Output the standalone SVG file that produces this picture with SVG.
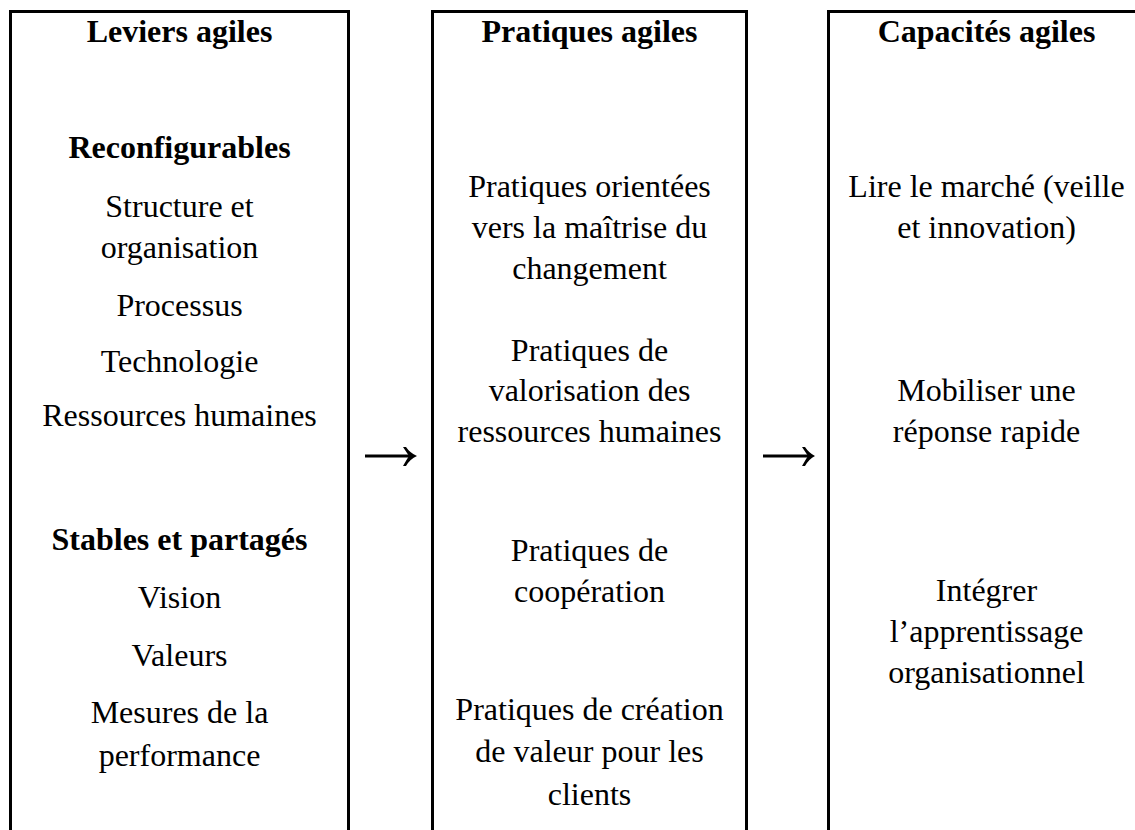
<svg xmlns="http://www.w3.org/2000/svg" width="1135" height="830" viewBox="0 0 1135 830">
<style>
.box{fill:#fff;stroke:#000;stroke-width:3}
text{font-family:"Liberation Serif","Times New Roman",serif;font-size:32px;fill:#000;text-anchor:middle}
.b{font-weight:bold}
.conn line{stroke:#000;stroke-width:3}
.conn path{fill:#000;stroke:none}
</style>
<rect width="1135" height="830" fill="#fff"/>
<g id="leviers">
<rect class="box" x="10.5" y="11.5" width="338" height="850"/>
<text class="b" x="179.5" y="42">Leviers agiles</text>
<text class="b" x="179.5" y="158">Reconfigurables</text>
<text x="179.5" y="217">Structure et</text>
<text x="179.5" y="258">organisation</text>
<text x="179.5" y="316">Processus</text>
<text x="179.5" y="372">Technologie</text>
<text x="179.5" y="426">Ressources humaines</text>
<text class="b" x="179.5" y="550">Stables et partagés</text>
<text x="179.5" y="608">Vision</text>
<text x="179.5" y="666">Valeurs</text>
<text x="179.5" y="723">Mesures de la</text>
<text x="179.5" y="766">performance</text>
</g>
<g id="pratiques">
<rect class="box" x="432.5" y="11.5" width="314" height="850"/>
<text class="b" x="589.5" y="42">Pratiques agiles</text>
<text x="589.5" y="197">Pratiques orientées</text>
<text x="589.5" y="238">vers la maîtrise du</text>
<text x="589.5" y="279">changement</text>
<text x="589.5" y="361">Pratiques de</text>
<text x="589.5" y="401">valorisation des</text>
<text x="589.5" y="442">ressources humaines</text>
<text x="589.5" y="561">Pratiques de</text>
<text x="589.5" y="602">coopération</text>
<text x="589.5" y="720">Pratiques de création</text>
<text x="589.5" y="762">de valeur pour les</text>
<text x="589.5" y="805">clients</text>
</g>
<g id="capacites">
<rect class="box" x="828.5" y="11.5" width="330" height="850"/>
<text class="b" x="986.5" y="42">Capacités agiles</text>
<text x="986.5" y="197">Lire le marché (veille</text>
<text x="986.5" y="238">et innovation)</text>
<text x="986.5" y="401">Mobiliser une</text>
<text x="986.5" y="442">réponse rapide</text>
<text x="986.5" y="601">Intégrer</text>
<text x="986.5" y="642">l’apprentissage</text>
<text x="986.5" y="683">organisationnel</text>
</g>
<g id="connectors" class="conn">
<line x1="365" y1="456" x2="410" y2="456"/>
<path d="M403,447 L406,447 Q410,453 417,456 Q410,459 406,466 L403,466 Q407,459 409,456 Q407,453 403,447 Z"/>
<line x1="763" y1="456" x2="808" y2="456"/>
<path d="M802,447 L805,447 Q809,453 815,456 Q809,459 805,466 L802,466 Q806,459 808,456 Q806,453 802,447 Z"/>
</g>
</svg>
